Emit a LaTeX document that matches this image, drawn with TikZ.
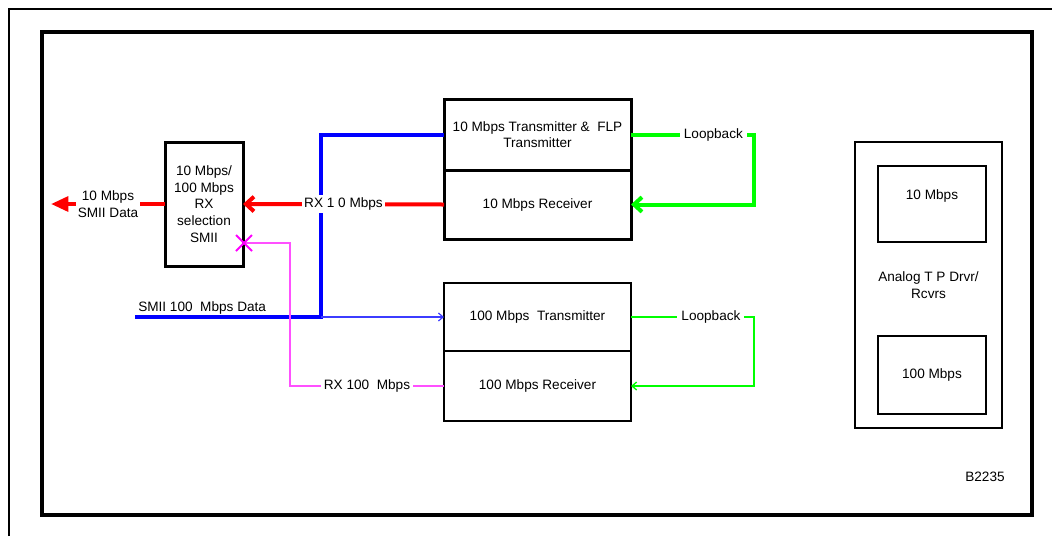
\documentclass[tikz,border=0pt]{standalone}
\usepackage{fontspec}
\setmainfont{Liberation Sans}
\usetikzlibrary{arrows.meta}
\definecolor{gr}{RGB}{0,255,0}
\definecolor{mg}{RGB}{255,80,255}
\definecolor{mx}{RGB}{255,0,255}
\definecolor{bl}{RGB}{0,0,255}
\definecolor{bl2}{RGB}{60,60,255}
\definecolor{rd}{RGB}{255,0,0}
\begin{document}
\begin{tikzpicture}[x=0.75pt,y=-0.75pt,
  font=\fontsize{10.2}{12.5}\selectfont,
  box/.style={draw, inner sep=0pt, outer sep=0pt, align=center},
  thickbox/.style={box, line width=2.25pt},
  thinbox/.style={box, line width=0.8pt},
  lbl/.style={fill=white, text=black, inner sep=2pt, align=center},
]
\useasboundingbox (0,0) rectangle (1052,536);
% frames
\draw[line width=1.6pt] (9,536) -- (9,9) -- (1052,9);
\draw[line width=2.5pt] (42,32) rectangle (1032,515);

% blocks
\node[thickbox, minimum width=58.5pt, minimum height=93pt] (smii) at (204,204)
  {10 Mbps/\\100 Mbps\\RX\\selection\\SMII};
\node[thickbox, minimum width=140.25pt, minimum height=53.25pt] (tx10) at (537.5,134.5)
  {10 Mbps Transmitter \&~ FLP\\Transmitter};
\node[thickbox, minimum width=140.25pt, minimum height=51.75pt] (rx10) at (537.5,204.5)
  {10 Mbps Receiver};
\node[thinbox, minimum width=140.25pt, minimum height=51pt] (tx100) at (537.5,317)
  {100 Mbps~ Transmitter};
\node[thinbox, minimum width=140.25pt, minimum height=52.5pt] (rx100) at (537.5,386)
  {100 Mbps Receiver};
\node[thinbox, minimum width=110.25pt, minimum height=214.5pt] (analog) at (928.5,285)
  {Analog T P Drvr/\\Rcvrs};
\node[thinbox, minimum width=81pt, minimum height=57pt] (a10) at (932,204) {};
\node (a10t) at (932,196) {10 Mbps};
\node[thinbox, minimum width=81pt, minimum height=58.5pt] (a100) at (932,375) {100 Mbps};
\node (code) at (985,477) {B2235};

% blue TX data
\coordinate (dstart) at (135,317);
\coordinate (bj) at (321,317);
\draw[bl, line width=3pt] (dstart) -- (bj) |- (tx10.west);
\draw[bl2, line width=0.9pt, -{Straight Barb[length=3.5pt,width=6pt]}] (bj) -- (tx100.west);
\node[anchor=west, inner sep=0pt] (dlbl) at (138,308) {SMII 100~ Mbps Data};

% red RX 10
\coordinate (otip) at (51,204);
\draw[rd, line width=3pt, -{Straight Barb[length=6pt,width=11pt]}] (rx10.west)
  -- node[lbl] {RX 1 0 Mbps} (smii.east);
\draw[rd, line width=3pt, -{Triangle[length=13pt,width=11pt]}] (smii.west)
  -- node[lbl, inner sep=1pt] {10 Mbps\\SMII Data} (otip);

% magenta RX 100
\coordinate (mj) at (290,386);
\coordinate (mxp) at (244,243);
\draw[mg, line width=1.1pt] (rx100.west) -- node[lbl] {RX 100~ Mbps} (mj) |- (mxp);
\draw[mx, line width=1.5pt] (mxp) ++(-8,-8) -- ++(16,16) (mxp) ++(-8,8) -- ++(16,-16);

% green loopbacks
\coordinate (g1) at (754,134.5);
\draw[gr, line width=3pt, -{Straight Barb[length=6pt,width=11pt]}] (tx10.east)
  -- node[lbl, pos=0.67, inner sep=3pt] {Loopback} (g1) |- (rx10.east);
\coordinate (g2) at (754,317);
\draw[gr, line width=1pt, -{Straight Barb[length=3.5pt,width=6pt]}] (tx100.east)
  -- node[lbl, pos=0.65, inner sep=3pt] {Loopback} (g2) |- (rx100.east);
\end{tikzpicture}
\end{document}
